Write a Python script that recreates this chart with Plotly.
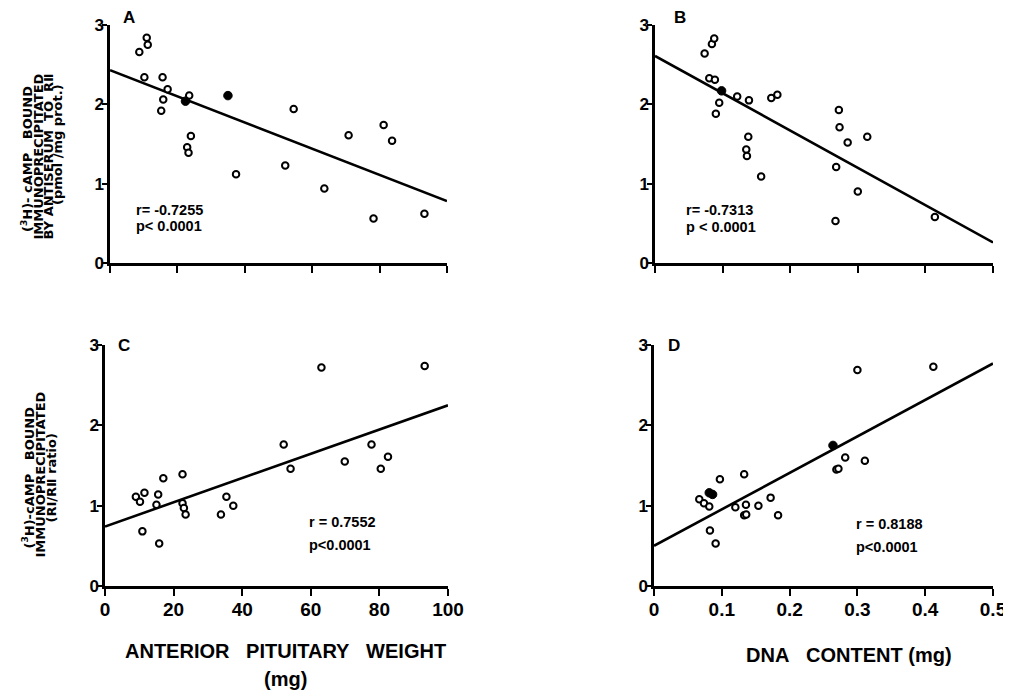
import plotly.graph_objects as go

# The page body has an 8px default margin, so the figure is drawn 8px in
# from the window's top-left corner; size it so it fits the 1011x695 window.
WIN_W, WIN_H = 1011, 695
OFF = 8
W, H = WIN_W - OFF, WIN_H - OFF

# ---------------- data ----------------
# Panel A: anterior pituitary weight (mg) vs bound (pmol/mg prot.)
a_x = [8.7, 10.9, 11.2, 10.2, 15.6, 17.1, 15.8, 15.2, 23.5, 24.0, 22.9, 23.3,
       37.4, 52.0, 54.5, 63.6, 70.8, 81.2, 83.7, 78.2, 93.3]
a_y = [2.66, 2.84, 2.75, 2.34, 2.34, 2.19, 2.06, 1.92, 2.11, 1.60, 1.46, 1.39,
       1.12, 1.23, 1.94, 0.94, 1.61, 1.74, 1.54, 0.56, 0.62]
a_fx = [22.4, 35.0]
a_fy = [2.04, 2.11]
a_lx = [0, 100]
a_ly = [2.43, 0.78]

# Panel B: DNA content (mg) vs bound (pmol/mg prot.)
b_x = [0.0734, 0.0842, 0.0876, 0.0803, 0.0886, 0.095, 0.090, 0.1216, 0.139,
       0.138, 0.135, 0.136, 0.157, 0.172, 0.181, 0.272, 0.273, 0.285, 0.314,
       0.268, 0.300, 0.267, 0.414]
b_y = [2.64, 2.76, 2.83, 2.33, 2.31, 2.02, 1.88, 2.10, 2.05,
       1.59, 1.43, 1.35, 1.09, 2.08, 2.12, 1.93, 1.71, 1.52, 1.59,
       1.21, 0.90, 0.53, 0.58]
b_fx = [0.0985]
b_fy = [2.17]
b_lx = [0, 0.5]
b_ly = [2.61, 0.26]

# Panel C: anterior pituitary weight (mg) vs RI/RII ratio
c_x = [9.0, 10.2, 11.5, 10.9, 15.5, 15.0, 15.8, 17.0, 22.6, 22.6, 23.0, 23.5,
       33.8, 35.4, 37.4, 52.1, 54.1, 63.1, 69.9, 77.7, 80.4, 82.5, 93.2]
c_y = [1.11, 1.05, 1.16, 0.68, 1.14, 1.01, 0.53, 1.34, 1.39, 1.03, 0.97, 0.89,
       0.89, 1.11, 1.00, 1.76, 1.46, 2.72, 1.55, 1.76, 1.46, 1.61, 2.74]
c_lx = [0, 100]
c_ly = [0.74, 2.25]

# Panel D: DNA content (mg) vs RI/RII ratio
d_x = [0.0668, 0.0737, 0.0815, 0.0972, 0.0825, 0.0909, 0.120, 0.133, 0.1356,
       0.154, 0.172, 0.183, 0.282, 0.311, 0.300, 0.412, 0.133, 0.136, 0.269, 0.272]
d_y = [1.08, 1.03, 0.99, 1.33, 0.69, 0.53, 0.98, 1.39, 1.01,
       1.00, 1.10, 0.88, 1.60, 1.56, 2.69, 2.73, 0.88, 0.89, 1.45, 1.46]
d_fx = [0.0815, 0.0864, 0.264]
d_fy = [1.16, 1.14, 1.75]
d_lx = [0, 0.5]
d_ly = [0.50, 2.77]

y_ticks = [0, 1, 2, 3]
w_ticks = [0, 20, 40, 60, 80, 100]
w_ticklabels = ["0", "20", "40", "60", "80", "100"]
dna_ticks = [0, 0.1, 0.2, 0.3, 0.4, 0.5]
dna_ticklabels = ["0", "0.1", "0.2", "0.3", "0.4", "0.5"]

panel_letters = ["A", "B", "C", "D"]
stats = [("r= -0.7255", "p< 0.0001"), ("r= -0.7313", "p < 0.0001"),
         ("r = 0.7552", "p<0.0001"), ("r = 0.8188", "p<0.0001")]

# ---------------- figure ----------------
fig = go.Figure()

def px2x(px):
    return (px - OFF) / W

def px2y(py):
    return 1 - (py - OFF) / H

open_marker = dict(symbol="circle", size=6.5, color="white",
                   line=dict(color="black", width=2))
fill_marker = dict(symbol="circle", size=8.5, color="black",
                   line=dict(color="black", width=1))
line_style = dict(color="black", width=2.6)

panels = [
    ("x", "y", a_x, a_y, a_fx, a_fy, a_lx, a_ly),
    ("x2", "y2", b_x, b_y, b_fx, b_fy, b_lx, b_ly),
    ("x3", "y3", c_x, c_y, [], [], c_lx, c_ly),
    ("x4", "y4", d_x, d_y, d_fx, d_fy, d_lx, d_ly),
]
for xa, ya, ox, oy, fx, fy, lx, ly in panels:
    fig.add_trace(go.Scatter(x=lx, y=ly, mode="lines", line=line_style,
                             xaxis=xa, yaxis=ya, showlegend=False, hoverinfo="skip"))
    fig.add_trace(go.Scatter(x=ox, y=oy, mode="markers", marker=open_marker,
                             xaxis=xa, yaxis=ya, showlegend=False))
    if fx:
        fig.add_trace(go.Scatter(x=fx, y=fy, mode="markers", marker=fill_marker,
                                 xaxis=xa, yaxis=ya, showlegend=False))

TICKFONT = "Liberation Sans Narrow, Arial Narrow, Liberation Sans, Arial, sans-serif"
TEXTFONT = "Liberation Sans, Arial, sans-serif"

def xaxis_cfg(domain, anchor, rng, tv, tt, show_labels):
    return dict(domain=domain, anchor=anchor, range=rng, tickvals=tv, ticktext=tt,
                showticklabels=show_labels, showline=True, linecolor="black",
                linewidth=2.5, ticks="outside", ticklen=7, tickwidth=2.2,
                tickcolor="black", showgrid=False, zeroline=False, automargin=False,
                tickfont=dict(family=TICKFONT, size=19, color="black", weight="bold"),
                ticklabelstandoff=-3, fixedrange=True)

def yaxis_cfg(domain, anchor):
    return dict(domain=domain, anchor=anchor, range=[0, 3], tickvals=y_ticks,
                showline=True, linecolor="black", linewidth=2.5, ticks="outside",
                ticklen=5, tickwidth=2.2, tickcolor="black", showgrid=False,
                zeroline=False, automargin=False,
                tickfont=dict(family=TICKFONT, size=17, color="black", weight="bold"),
                ticklabelstandoff=-5, fixedrange=True)

top_y = [px2y(263), px2y(25)]
bot_y = [px2y(586), px2y(345)]

fig.update_layout(
    width=W, height=H, autosize=False,
    margin=dict(l=0, r=0, t=0, b=0, pad=0, autoexpand=False),
    paper_bgcolor="white", plot_bgcolor="white",
    showlegend=False,
    xaxis=xaxis_cfg([px2x(110), px2x(447)], "y", [0, 100], w_ticks, w_ticklabels, False),
    yaxis=yaxis_cfg(top_y, "x"),
    xaxis2=xaxis_cfg([px2x(655), px2x(993)], "y2", [0, 0.5], dna_ticks, dna_ticklabels, False),
    yaxis2=yaxis_cfg(top_y, "x2"),
    xaxis3=xaxis_cfg([px2x(105), px2x(448)], "y3", [0, 100], w_ticks, w_ticklabels, True),
    yaxis3=yaxis_cfg(bot_y, "x3"),
    xaxis4=xaxis_cfg([px2x(654), px2x(993)], "y4", [0, 0.5], dna_ticks, dna_ticklabels, True),
    yaxis4=yaxis_cfg(bot_y, "x4"),
)

anns = []

def ann(text, px, py, size, family=TEXTFONT, xanchor="center", yanchor="middle", angle=0):
    anns.append(dict(text=text, x=px2x(px), y=px2y(py), xref="paper", yref="paper",
                     xanchor=xanchor, yanchor=yanchor, showarrow=False, textangle=angle,
                     borderpad=0,
                     font=dict(family=family, size=size, color="black", weight="bold")))

# panel letters
for letter, (px, py) in zip(panel_letters, [(129, 18), (680, 18), (124, 345), (674, 345)]):
    ann(letter, px, py, 17)

# r / p statistics
for (r, p), (px, py1, py2) in zip(stats, [(135, 210, 226), (685, 210, 227),
                                          (308, 522, 545), (855, 524, 547)]):
    ann(r, px, py1, 14.5, xanchor="left")
    ann(p, px, py2, 14.5, xanchor="left")

# y-axis titles (rotated)
YF = "DejaVu Sans, Verdana, sans-serif"
YS = 13
ann("(<sup>3</sup>H)- cAMP\u00a0\u00a0\u00a0BOUND", 27, 159, YS, family=YF, angle=-90)
ann("IMMUNOPRECIPITATED", 37.5, 157, YS, family=YF, angle=-90)
ann("BY ANTISERUM\u00a0\u00a0TO\u00a0\u00a0R\u2161", 47.5, 157, YS, family=YF, angle=-90)
ann("(pmol /mg prot.)", 57, 145, YS, family=YF, angle=-90)

ann("(<sup>3</sup>H)-cAMP\u00a0\u00a0\u00a0BOUND", 28.5, 478, YS, family=YF, angle=-90)
ann("IMMUNOPRECIPITATED", 39.5, 475, YS, family=YF, angle=-90)
ann("(RI/R\u2161 ratio)", 50.5, 478, YS, family=YF, angle=-90)

# x-axis titles
ann("ANTERIOR\u00a0\u00a0\u00a0PITUITARY\u00a0\u00a0\u00a0WEIGHT", 285, 651, 20)
ann("(mg)", 285, 679, 20)
ann("DNA\u00a0\u00a0\u00a0CONTENT (mg)", 849, 655, 20)

fig.update_layout(annotations=anns)

fig.write_html("out.html", config={"displayModeBar": False})
